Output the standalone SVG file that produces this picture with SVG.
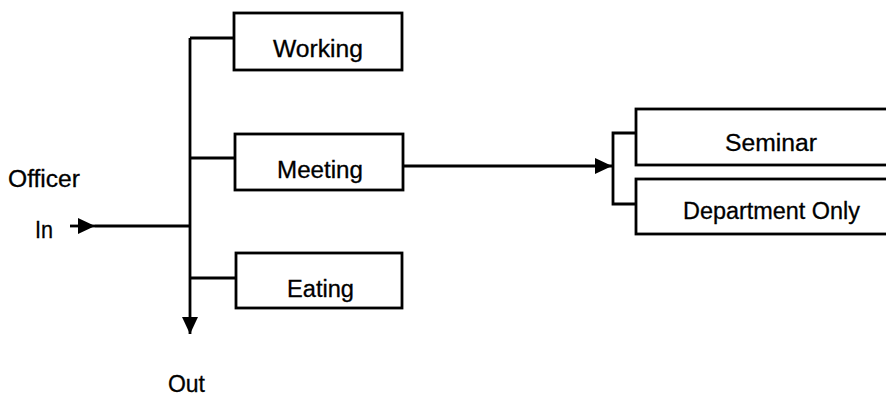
<svg xmlns="http://www.w3.org/2000/svg" width="886" height="399" viewBox="0 0 886 399">
  <style>
    .box { fill: #ffffff; stroke: #000000; stroke-width: 2.8; }
    .wire { fill: none; stroke: #000000; stroke-width: 2.8; }
    .lbl { font-family: "Liberation Sans", Arial, sans-serif; font-size: 23px; fill: #000000; stroke: #000000; stroke-width: 0.3; }
  </style>
  <defs>
    <marker id="arrow" markerUnits="userSpaceOnUse" markerWidth="18" markerHeight="16" refX="17" refY="8" orient="auto">
      <path d="M0,0 L17,8 L0,16 Z" fill="#000000"/>
    </marker>
  </defs>
  <rect x="0" y="0" width="886" height="399" fill="#ffffff"/>

  <g id="connectors">
    <path class="wire" d="M190,38 V334" marker-end="url(#arrow)"/>
    <path class="wire" d="M190,38 H234"/>
    <path class="wire" d="M190,158 H235"/>
    <path class="wire" d="M190,278 H236"/>
    <path class="wire" d="M70,226 H95" marker-end="url(#arrow)"/>
    <path class="wire" d="M95,226 H190"/>
    <path class="wire" d="M403,166 H612" marker-end="url(#arrow)"/>
    <path class="wire" d="M636,133 H613 V204 H636"/>
  </g>

  <g id="officer">
    <text class="lbl" x="8" y="187" textLength="72" lengthAdjust="spacingAndGlyphs">Officer</text>
  </g>
  <g id="in">
    <text class="lbl" x="35" y="238" textLength="18" lengthAdjust="spacingAndGlyphs">In</text>
  </g>
  <g id="out">
    <text class="lbl" x="168" y="392" textLength="37" lengthAdjust="spacingAndGlyphs">Out</text>
  </g>

  <g id="working">
    <rect class="box" x="234" y="13" width="168" height="57"/>
    <text class="lbl" x="273" y="57" textLength="90" lengthAdjust="spacingAndGlyphs">Working</text>
  </g>
  <g id="meeting">
    <rect class="box" x="235" y="134" width="168" height="56"/>
    <text class="lbl" x="277" y="178" textLength="86" lengthAdjust="spacingAndGlyphs">Meeting</text>
  </g>
  <g id="eating">
    <rect class="box" x="236" y="253" width="166" height="55"/>
    <text class="lbl" x="287" y="297" textLength="67" lengthAdjust="spacingAndGlyphs">Eating</text>
  </g>
  <g id="seminar">
    <rect class="box" x="636" y="109" width="262" height="56"/>
    <text class="lbl" x="725" y="151" textLength="92" lengthAdjust="spacingAndGlyphs">Seminar</text>
  </g>
  <g id="department-only">
    <rect class="box" x="636" y="179" width="262" height="55"/>
    <text class="lbl" x="683" y="219" textLength="177" lengthAdjust="spacingAndGlyphs">Department Only</text>
  </g>
</svg>
